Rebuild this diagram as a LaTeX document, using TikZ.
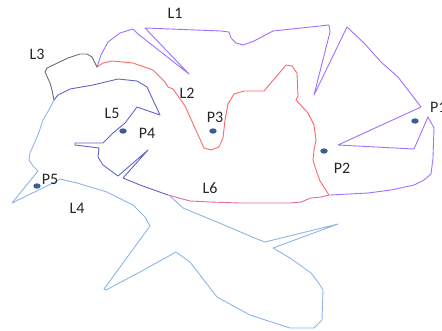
\documentclass[tikz,border=0pt]{standalone}
\usepackage{fontspec}
\setmainfont{Carlito}
\begin{document}
\begin{tikzpicture}[x=1pt,y=-1pt,
  ln/.style={line width=0.9pt, line join=round, line cap=round},
  lbl/.style={font=\fontsize{16}{16}\selectfont, text=black!85, inner sep=0pt},
  pt/.style={fill=dotblue, draw=none}]
\definecolor{c1}{HTML}{A070FF}
\definecolor{c2}{HTML}{FF6868}
\definecolor{c3}{HTML}{707070}
\definecolor{c4}{HTML}{8DB4E6}
\definecolor{c5}{HTML}{6262CC}
\definecolor{c6}{HTML}{E468A8}
\definecolor{dotblue}{HTML}{3A5F8F}
\useasboundingbox (0,0) rectangle (442,330);
% L1
\draw[ln,c1] (97,67) -- (101,55) -- (108,42) -- (120,33) -- (133,29) -- (138,34) -- (189,74) -- (145,28) -- (221,31) -- (229,32) -- (231,38) -- (236,43) -- (243,45) -- (254,41) -- (273,31) -- (329,25) -- (330,32) -- (314,95) -- (347,27) -- (364,43) -- (381,62) -- (398,77) -- (408,90) -- (421,107) -- (338,145) -- (414,149) -- (428,117) -- (434,128) -- (433,158) -- (431,174) -- (424,180) -- (414,185) -- (391,190) -- (368,193) -- (330,195);
% L2
\draw[ln,c2] (97,67) -- (103,63) -- (112,61) -- (133,63) -- (153,70) -- (165,82) -- (168,87) -- (173,89) -- (185,106) -- (204,148) -- (211,150) -- (219,147) -- (223,138) -- (225,120) -- (228,104) -- (234,94) -- (244,91) -- (264,91) -- (286,65) -- (292,66) -- (297,73) -- (298,96) -- (296,100) -- (308,113) -- (314,125) -- (316,140) -- (314,150) -- (313,160) -- (316,170) -- (320,181) -- (329,195);
% L3
\draw[ln,c3] (97,67) -- (92,57) -- (87,54) -- (80,54) -- (68,58) -- (47,68) -- (45,72) -- (50,83) -- (52,90) -- (54,100);
% L5
\draw[ln,c5] (54,100) -- (58,95) -- (70,89) -- (93,85) -- (118,79) -- (137,81) -- (147,87) -- (160,115) -- (137,107) -- (125,123) -- (113,133) -- (103,143) -- (75,143) -- (75,145) -- (99,148) -- (98,157) -- (103,165) -- (118,176) -- (148,150) -- (123,178) -- (140,185) -- (168,195);
% L6
\draw[ln,c6] (168,195) -- (190,201) -- (210,202) -- (240,203) -- (290,203) -- (301,202) -- (311,198) -- (321,197) -- (329,195);
% L4
\draw[ln,c4] (54,100) -- (50,108) -- (43,120) -- (38,135) -- (30,153) -- (29,160) -- (33,166) -- (38,171) -- (12,203) -- (55,182) -- (60,179) -- (77,183) -- (107,192) -- (133,205) -- (145,217) -- (150,226) -- (104,289) -- (106,290) -- (140,272) -- (176,252) -- (190,262) -- (217,297) -- (250,315) -- (290,328) -- (314,328) -- (322,320) -- (323,290) -- (318,282) -- (311,273) -- (290,258) -- (273,248) -- (338,224) -- (265,242) -- (257,239) -- (217,222) -- (183,208) -- (170,196);
% points
\fill[pt] (415,121) ellipse (3.7 and 2.7);
\fill[pt] (324,151) ellipse (3.7 and 2.7);
\fill[pt] (213,131) ellipse (3.7 and 2.7);
\fill[pt] (123,131) ellipse (3.7 and 2.7);
\fill[pt] (37,186) ellipse (3.7 and 2.7);
% labels
\node[lbl] (l1) at (175,13) {L1};
\node[lbl] (l2) at (187,93) {L2};
\node[lbl] (l3) at (37,54) {L3};
\node[lbl] (l4) at (77,208) {L4};
\node[lbl] (l5) at (112,113) {L5};
\node[lbl] (l6) at (210,188) {L6};
\node[lbl,anchor=west] (p1) at (430,107) {P1};
\node[lbl] (p2) at (342,168) {P2};
\node[lbl] (p3) at (215,117) {P3};
\node[lbl] (p4) at (147,133) {P4};
\node[lbl] (p5) at (50,179) {P5};
\end{tikzpicture}
\end{document}
